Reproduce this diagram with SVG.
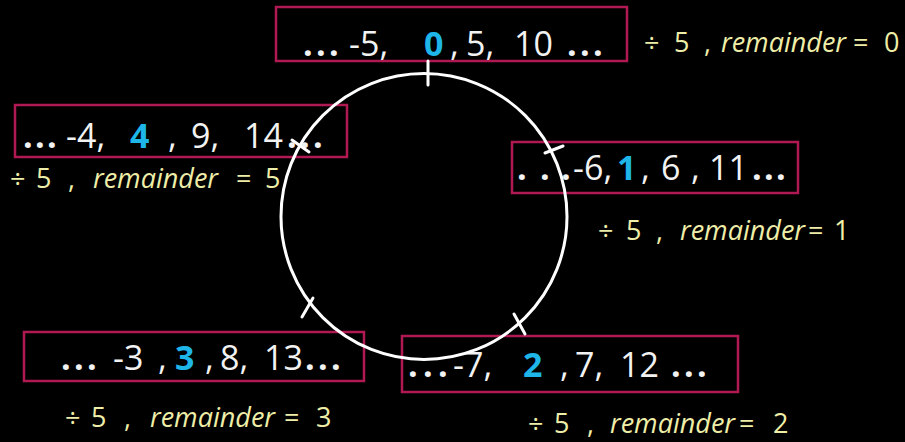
<svg xmlns="http://www.w3.org/2000/svg" width="905" height="442" viewBox="0 0 905 442">
<style>
.box{fill:none;stroke:#b01952;stroke-width:2.5}
.num{font-family:"Open Sans","Noto Sans",sans-serif;font-size:34px;fill:#f2f2f2}
.hi{fill:#1eb6e8;font-weight:bold}
.dot{font-weight:bold}
.lab{font-family:"Open Sans","Noto Sans",sans-serif;font-size:27px;fill:#efeea8}
.it{font-style:italic}
.ring{fill:none;stroke:#ffffff;stroke-width:3;stroke-linecap:round}
</style>
<rect width="905" height="442" fill="#000000"/>

<g id="node-r0">
<rect class="box" x="276" y="7" width="351" height="54"/>
<text class="num" y="56"><tspan class="dot" x="303 316 329">...</tspan><tspan x="349">-5,</tspan><tspan class="hi" x="424">0</tspan><tspan x="450">,</tspan><tspan x="466">5,</tspan><tspan x="514">10</tspan><tspan class="dot" x="567 580 593">...</tspan></text>
<text class="lab" y="52"><tspan x="644">÷</tspan><tspan x="674">5</tspan><tspan x="704">,</tspan><tspan class="it" x="721">remainder</tspan><tspan x="853">=</tspan><tspan x="884">0</tspan></text>
</g>

<g id="node-r4">
<rect class="box" x="15" y="105" width="332" height="52"/>
<text class="num" y="148"><tspan class="dot" x="23 35 47">...</tspan><tspan x="66">-4,</tspan><tspan class="hi" x="130">4</tspan><tspan x="168">,</tspan><tspan x="191">9,</tspan><tspan x="244">14</tspan><tspan class="dot" x="287 300 313">...</tspan></text>
<text class="lab" y="188"><tspan x="10">÷</tspan><tspan x="36">5</tspan><tspan x="68">,</tspan><tspan class="it" x="93">remainder</tspan><tspan x="236">=</tspan><tspan x="265">5</tspan></text>
</g>

<g id="node-r1">
<rect class="box" x="512" y="142" width="286" height="51"/>
<text class="num" y="180"><tspan class="dot" x="517 540 561">...</tspan><tspan x="573">-6,</tspan><tspan class="hi" x="617">1</tspan><tspan x="641">,</tspan><tspan x="661">6</tspan><tspan x="691">,</tspan><tspan x="709">11</tspan><tspan class="dot" x="752 764 776">...</tspan></text>
<text class="lab" y="240"><tspan x="598">÷</tspan><tspan x="626">5</tspan><tspan x="656">,</tspan><tspan class="it" x="680">remainder</tspan><tspan x="808">=</tspan><tspan x="834">1</tspan></text>
</g>

<g id="node-r3">
<rect class="box" x="24" y="332" width="340" height="49"/>
<text class="num" y="370"><tspan class="dot" x="61 74 87">...</tspan><tspan x="113">-3</tspan><tspan x="158">,</tspan><tspan class="hi" x="175">3</tspan><tspan x="205">,</tspan><tspan x="220">8,</tspan><tspan x="264">13</tspan><tspan class="dot" x="305 318 331">...</tspan></text>
<text class="lab" y="427"><tspan x="65">÷</tspan><tspan x="91">5</tspan><tspan x="124">,</tspan><tspan class="it" x="150">remainder</tspan><tspan x="284">=</tspan><tspan x="316">3</tspan></text>
</g>

<g id="node-r2">
<rect class="box" x="402" y="336" width="336" height="56"/>
<text class="num" y="377"><tspan class="dot" x="408 423 438">...</tspan><tspan x="453">-7,</tspan><tspan class="hi" x="523">2</tspan><tspan x="560">,</tspan><tspan x="575">7,</tspan><tspan x="620">12</tspan><tspan class="dot" x="671 684 697">...</tspan></text>
<text class="lab" y="433"><tspan x="528">÷</tspan><tspan x="554">5</tspan><tspan x="587">,</tspan><tspan class="it" x="610">remainder</tspan><tspan x="739">=</tspan><tspan x="773">2</tspan></text>
</g>

<g id="connectors">
<circle class="ring" cx="424" cy="216.5" r="143"/>
<line class="ring" x1="428" y1="61" x2="428" y2="85"/>
<line class="ring" x1="545" y1="153" x2="563" y2="146"/>
<line class="ring" x1="292" y1="140" x2="309" y2="152"/>
<line class="ring" x1="302" y1="317" x2="313" y2="298"/>
<line class="ring" x1="514" y1="314" x2="525" y2="334"/>
</g>
</svg>
